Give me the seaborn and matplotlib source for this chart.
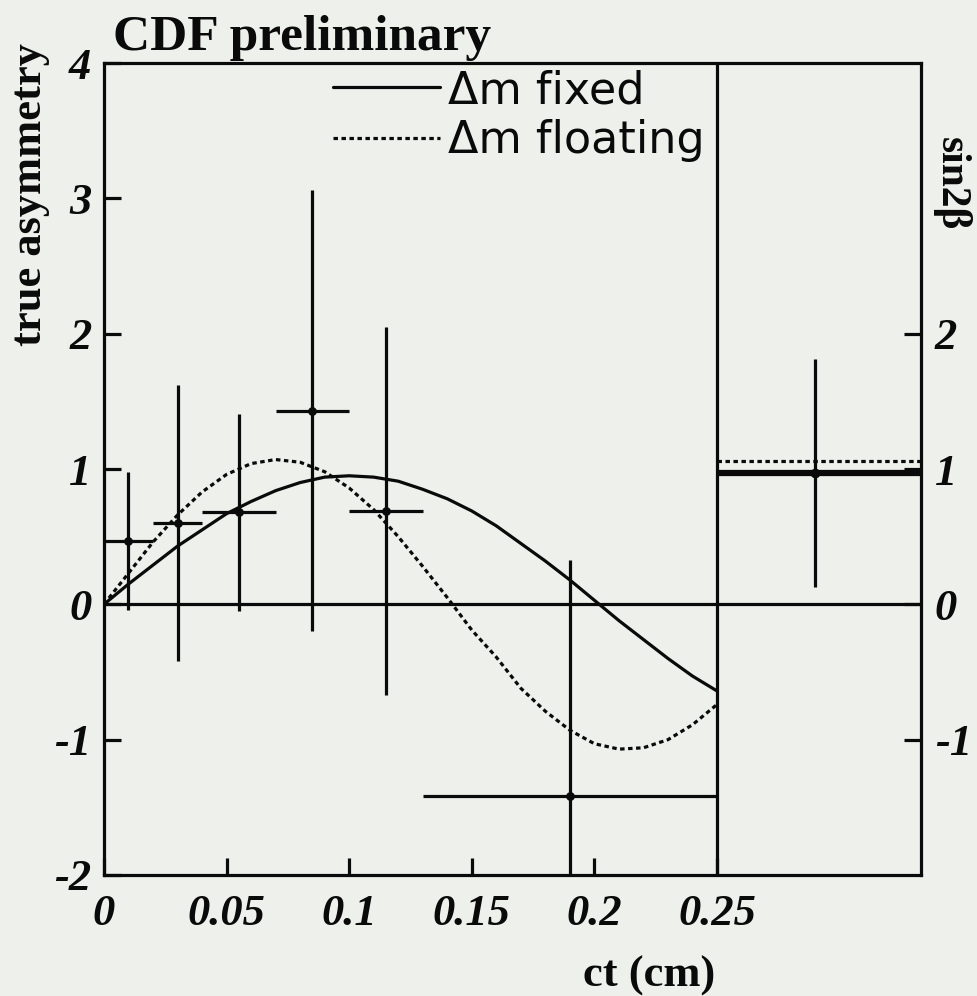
import matplotlib
matplotlib.use("Agg")
import matplotlib.pyplot as plt
from matplotlib.lines import Line2D
import pandas as pd
import seaborn as sns

# ---- fit curves: true asymmetry vs ct (cm) ----
ct_grid = [0.00, 0.01, 0.02, 0.03, 0.04, 0.05, 0.06, 0.07, 0.08, 0.09,
           0.10, 0.11, 0.12, 0.13, 0.14, 0.15, 0.16, 0.17, 0.18, 0.19,
           0.20, 0.21, 0.22, 0.23, 0.24, 0.25]
fit_dm_fixed = [0.00, 0.15, 0.29, 0.43, 0.55, 0.67, 0.76, 0.84, 0.90, 0.94,
                0.95, 0.94, 0.91, 0.85, 0.78, 0.69, 0.58, 0.45, 0.32, 0.18,
                0.03, -0.12, -0.26, -0.40, -0.53, -0.64]
fit_dm_floating = [0.00, 0.23, 0.46, 0.66, 0.83, 0.96, 1.04, 1.07, 1.05, 0.98,
                   0.86, 0.70, 0.50, 0.28, 0.05, -0.19, -0.39, -0.62, -0.79, -0.93,
                   -1.03, -1.07, -1.06, -1.00, -0.89, -0.74]

# ---- binned measurements ----
bin_center = [0.01, 0.03, 0.055, 0.085, 0.115, 0.19]
bin_halfwidth = [0.01, 0.01, 0.015, 0.015, 0.015, 0.06]
asymmetry = [0.47, 0.60, 0.68, 1.43, 0.69, -1.42]
asymmetry_err = [0.51, 1.02, 0.73, 1.63, 1.36, 1.75]

# ---- sin2beta summary panel ----
sin2b_x = 0.29
sin2b_fixed = 0.97
sin2b_err = 0.84
sin2b_floating = 1.06

# ---- axes ----
x_ticks = [0, 0.05, 0.1, 0.15, 0.2, 0.25]
x_ticklabels = ["0", "0.05", "0.1", "0.15", "0.2", "0.25"]
y_ticks = [-2, -1, 0, 1, 2, 3, 4]
y_ticklabels = ["-2", "-1", "0", "1", "2", "3", "4"]
right_ticks = [-1, 0, 1, 2]
right_ticklabels = ["-1", "0", "1", "2"]
legend_labels = ["\u0394m fixed", "\u0394m floating"]

x_max = 0.3332
panel_split = 0.25

bg = "#eef0eb"
ink = "#0a0a0a"
lw = 2.3

sns.set_theme(style="ticks", rc={
    "figure.facecolor": bg,
    "axes.facecolor": bg,
    "axes.edgecolor": ink,
    "axes.linewidth": lw,
    "xtick.direction": "in",
    "ytick.direction": "in",
    "text.color": ink,
    "xtick.color": ink,
    "ytick.color": ink,
    "axes.labelcolor": ink,
})
plt.rcParams["font.family"] = ["Liberation Serif", "DejaVu Serif"]

serif_bold = dict(family=["Liberation Serif", "DejaVu Serif"], weight="bold",
                  color=ink)
tick_font = dict(family=["Liberation Serif", "DejaVu Serif"], weight="bold",
                 style="italic", size=32, color=ink)

fig = plt.figure(figsize=(9.77, 9.96), dpi=100)
ax = fig.add_axes([0.1064, 0.1215, 0.8363, 0.8152])

curves = pd.DataFrame({"ct": ct_grid, "fixed": fit_dm_fixed,
                       "floating": fit_dm_floating})
sns.lineplot(data=curves, x="ct", y="fixed", ax=ax, color=ink, lw=lw,
             sort=False)
sns.lineplot(data=curves, x="ct", y="floating", ax=ax, color=ink, lw=lw,
             linestyle=(0, (1.4, 1.1)), sort=False)

# reference lines: zero, panel divider
ax.axhline(0, color=ink, lw=lw, zorder=1)
ax.axvline(panel_split, color=ink, lw=lw, zorder=3)

# binned data with error bars
ax.errorbar(bin_center, asymmetry, xerr=bin_halfwidth, yerr=asymmetry_err,
            fmt="none", ecolor=ink, elinewidth=lw, capsize=0, zorder=4)
points = pd.DataFrame({"ct": bin_center, "A": asymmetry})
sns.scatterplot(data=points, x="ct", y="A", ax=ax, color=ink, s=40,
                edgecolor=ink, linewidth=0, zorder=5)

# sin2beta panel
ax.hlines(sin2b_fixed, panel_split, x_max, color=ink, lw=4.5, zorder=3)
ax.hlines(sin2b_floating, panel_split, x_max, color=ink, lw=lw,
          linestyle=(0, (1.4, 1.1)), zorder=3)
ax.errorbar([sin2b_x], [sin2b_fixed], yerr=[sin2b_err], fmt="o", ms=6,
            color=ink, elinewidth=lw, capsize=0, zorder=5)

ax.set_xlim(0, x_max)
ax.set_ylim(-2, 4)
ax.set_xlabel("")
ax.set_ylabel("")

ax.set_xticks(x_ticks)
ax.set_xticklabels(x_ticklabels, **tick_font)
ax.set_yticks(y_ticks)
ax.set_yticklabels(y_ticklabels, **tick_font)
ax.tick_params(axis="x", length=12, width=lw, pad=14, top=False)
ax.tick_params(axis="y", length=12, width=lw, pad=9, right=False)
for spine in ax.spines.values():
    spine.set_visible(True)
    spine.set_linewidth(lw)

ax2 = ax.twinx()
ax2.set_ylim(-2, 4)
ax2.set_yticks(right_ticks)
ax2.set_yticklabels(right_ticklabels, **tick_font)
ax2.tick_params(axis="y", direction="in", length=12, width=lw, pad=10)
for spine in ax2.spines.values():
    spine.set_visible(False)

# legend
handles = [Line2D([], [], color=ink, lw=lw),
           Line2D([], [], color=ink, lw=lw, linestyle=(0, (1.4, 1.1)))]
leg = ax.legend(handles, legend_labels, loc="upper left",
                bbox_to_anchor=(333 / 977, 1 - 69 / 996),
                bbox_transform=fig.transFigure, frameon=False,
                prop=dict(family="DejaVu Sans", size=32),
                handlelength=2.4, handletextpad=0.18, labelspacing=0.16,
                borderpad=0, borderaxespad=0)
for txt in leg.get_texts():
    txt.set_color(ink)

# titles and axis labels
fig.text(113 / 977, 1 - 50 / 996, "CDF preliminary", size=37,
         va="baseline", ha="left", **serif_bold)
fig.text(30 / 977, 1 - 195 / 996, "true asymmetry", size=32, rotation=90,
         va="center", ha="center", **serif_bold)
fig.text(649 / 977, 1 - 976 / 996, "ct (cm)", size=32,
         va="center", ha="center", **serif_bold)
fig.text(951 / 977, 1 - 184 / 996, "sin2\u03b2", size=30, rotation=270,
         va="center", ha="center", **serif_bold)

fig.savefig("out.png", dpi=100, facecolor=bg)
